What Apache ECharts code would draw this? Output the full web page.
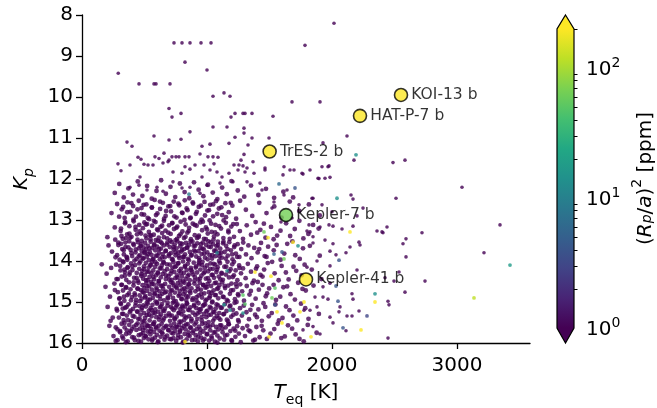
<!DOCTYPE html>
<html>
<head>
<meta charset="utf-8">
<script src="https://cdn.jsdelivr.net/npm/echarts@6/dist/echarts.min.js"></script>
<style>
  html, body { margin: 0; padding: 0; background: #fff; }
  #chart { width: 657px; height: 408px; }
</style>
</head>
<body>
<div id="chart"></div>
<script>
// --- data: [T_eq (K), Kp] for planets with (Rp/a)^2 below 1 ppm ---
const sparseField = [
  [736,8.68],[800,8.68],[864,8.68],[952,8.68],[1032,8.68],[2016,8.2],[1784,8.74],[824,9.15],[1000,9.34],[290,9.42],
  [456,9.68],[576,9.68],[592,9.68],[704,9.68],[1048,9.98],[1136,9.9],[1184,9.98],[696,10.28],[792,10.4],[720,10.49],
  [1192,10.49],[1680,10.12],[1904,10.12],[1224,10.4],[1288,10.4],[1304,10.4],[1360,10.4],[1528,10.47],
  [1048,10.73],[1160,10.73],[1296,10.76],[1296,10.88],[576,10.95],[792,11.03],[864,10.85],[1224,10.98],[1360,11.0],
  [360,11.1],[400,11.2],[696,11.05],[1176,11.13],[1496,11.0],[960,11.2],[1024,11.15],[1328,11.17],[1296,11.4],
  [448,11.47],[472,11.52],[584,11.46],[616,11.5],[656,11.37],[696,11.54],[720,11.46],[752,11.46],[776,11.46],
  [824,11.46],[856,11.46],[944,11.39],[1008,11.46],[1048,11.46],[1088,11.47],[1272,11.54],[1368,11.58],[288,11.63],
  [312,11.8],[384,11.66],[496,11.64],[528,11.66],[568,11.66],[648,11.61],[688,11.58],[728,11.83],[800,11.86],
  [824,11.7],[864,11.76],[904,11.66],[960,11.95],[976,11.66],[1024,11.78],[1056,11.63],[1080,11.83],[1120,11.95],
  [1176,11.86],[1216,11.66],[1248,11.78],[1288,11.68],[1304,11.83],[1376,11.86],[1464,11.78],[464,11.95],[456,12.15],
  [384,12.2],[520,12.27],[600,12.2],[648,12.3],[728,12.07],[800,12.22],[864,12.2],[944,12.35],[1000,12.15],
  [1104,12.1],[1208,12.07],[1320,12.07],[1424,12.1],[1608,11.9],[1664,11.78],[1760,11.86],[1824,11.78],[1888,11.98],
  [1944,11.98],[1968,11.7],[2120,10.95],[1928,11.12],[2176,11.54],[2488,11.6],[2584,11.54],[1976,11.68],[1768,11.88],
  [1896,11.99],[1984,11.96],[3040,12.2],[1848,12.47],[2152,12.39],[2168,12.49],[2512,12.47],
  [1256,11.66],[1320,11.73],[1464,11.73],[1616,11.7],[1696,11.78],[1920,11.7],[1640,12.27],[1616,12.39],[1840,12.47],
  [1440,12.27],[1536,12.56],[1520,12.71],[1736,12.63],[1920,12.63],[2000,12.8],[1976,13.12],[1816,13.12],[2248,12.71],
  [1680,12.95],[1592,13.05],[2080,13.22],[2200,12.9]
];
const sparseTail = [
  [2440,13.17],[2408,13.31],[2720,13.31],[3344,13.12],[2592,13.46],[2568,13.58],[3216,13.8],[2592,13.9],[2536,14.27],
  [2424,14.41],[2496,14.49],[2744,14.49],[2584,14.76],[2448,14.98],[2456,15.07],[2448,15.88],[2200,14.22],[2160,14.8],
  [2168,14.93],[2064,15.12],[2056,15.24],[2216,15.22],[2120,15.34],[2160,15.34],[2008,15.51],[2112,15.7],[1904,15.78],
  [1848,15.6],[1768,15.68],[1984,15.37],[1928,14.88],[1968,14.93],[1864,14.88],[1880,15.12],[1824,15.2],[1776,15.2],
  [1984,14.54],[1928,14.63],[1984,14.12],[1800,14.15],[1880,14.0],[2216,13.54],[2144,13.66],[2112,13.8],[2008,13.58],
  [1984,13.76],[2032,13.85],[1944,13.49],[1848,13.41],[1800,13.27],[1848,13.56],[2168,13.15],[2360,13.27],[2400,13.29],
  [2008,13.15],[1904,13.17],[1824,13.29],[2224,13.61]
];
const coreKp12 = [
  [262,12.34],[298,12.12],[334,12.45],[371,12.23],[408,12.38],[446,12.06],[483,12.41],[521,12.17],[558,12.48],[596,12.29],
  [633,12.03],[671,12.36],[708,12.19],[746,12.44],[783,12.11],[821,12.32],[858,12.47],[896,12.08],[933,12.26],[971,12.42],
  [1008,12.14],[1046,12.33],[1083,12.49],[1121,12.21],[1158,12.37],[1196,12.05],[1246,12.28],[1298,12.43],[1352,12.16],
  [1411,12.39],[1472,12.24],[1537,12.46],[1611,12.31],[1689,12.45]
];
const coreKp125 = [
  [236,12.83],[281,12.61],[318,12.74],[341,12.95],[364,12.57],[387,12.8],[409,12.66],[432,12.92],[454,12.53],[476,12.71],
  [497,12.87],[515,12.62],[537,12.98],[559,12.69],[581,12.51],[603,12.84],[625,12.73],[647,12.58],[669,12.9],[691,12.67],
  [712,12.79],[734,12.55],[756,12.94],[778,12.64],[800,12.82],[822,12.52],[844,12.76],[866,12.96],[888,12.6],[911,12.85],
  [934,12.68],[957,12.99],[980,12.56],[1003,12.77],[1026,12.63],[1049,12.91],[1072,12.54],[1095,12.72],[1121,12.88],
  [1147,12.59],[1174,12.81],[1203,12.65],[1233,12.97],[1265,12.53],[1311,12.75],[1362,12.9],[1418,12.58],[1476,12.83],
  [1538,12.67],[1596,12.94],[1662,12.55],[1738,12.78],[1815,12.62],[1902,12.89],
  [297,12.92],[312,13.21],[329,12.68],[346,13.05],[362,12.81],[379,13.33],[395,12.59],[411,12.99],[428,13.17],[444,12.74],
  [461,13.28],[477,12.86],[493,12.63],[510,13.11],[526,12.95],[543,13.37],[559,12.7],[575,13.02],[592,12.88],[608,13.25],
  [624,12.55],[641,13.14],[657,12.97],[673,12.78],[690,13.31],[706,12.66],[722,13.08],[739,12.91],[755,13.19],[771,12.6],
  [788,13.35],[804,12.83],[820,13.0],[837,12.72],[853,13.27],[869,12.94],[886,12.57],[902,13.12],[918,12.8],[935,13.38],
  [951,12.65],[967,13.04],[984,12.89],[1000,13.23],[1016,12.76],[1033,13.09],[1049,12.62],[1065,13.3],[1082,12.85],
  [1098,13.15],[1115,12.69],[1133,13.01],[1152,12.93],[1171,13.26],[1190,12.58],[1210,13.1]
];
const coreKp13 = [
  [203,13.42],[262,13.18],[309,13.27],[326,13.46],[344,13.08],[361,13.35],[379,13.15],[396,13.41],[413,13.03],[429,13.24],
  [444,13.48],[458,13.12],[472,13.33],[487,13.2],[499,13.06],[352,13.44],[508,13.38],[521,13.1],[535,13.29],[548,13.47],
  [561,13.14],[574,13.36],[588,13.05],[601,13.23],[614,13.43],[628,13.17],[641,13.32],[655,13.02],[668,13.26],[682,13.45],
  [696,13.13],[709,13.34],[722,13.07],[736,13.22],[749,13.49],[762,13.16],[776,13.39],[789,13.04],[803,13.28],[816,13.44],
  [829,13.11],[843,13.31],[857,13.19],[871,13.47],[886,13.09],[902,13.37],[917,13.14],[932,13.42],[946,13.06],[961,13.25],
  [976,13.46],[991,13.18],[1006,13.33],[1021,13.01],[1037,13.29],[1052,13.48],[1068,13.12],[1084,13.35],[1112,13.21],
  [1131,13.44],[1151,13.07],[1172,13.3],[1194,13.16],[1216,13.41],[1239,13.1],[1263,13.27],[1288,13.46],[1318,13.13],
  [1352,13.36],[1389,13.05],[1427,13.24],[1468,13.43],[1512,13.17],[1561,13.38],[1633,13.08],[1702,13.22],[1771,13.45],
  [1849,13.12],[1402,13.31],[1455,13.09],[1533,13.47],[1588,13.26],[1665,13.39],[1739,13.02],[1811,13.34],[1893,13.21]
];
const coreKp135 = [
  [212,13.62],[268,13.91],[240,13.77],[291,13.55],[312,13.58],[335,13.84],[348,13.66],[362,13.97],[377,13.52],[389,13.73],
  [401,13.88],[415,13.61],[428,13.79],[436,13.95],[447,13.54],[455,13.69],[463,13.86],[471,13.6],[479,13.76],[486,13.93],
  [492,13.67],[498,13.81],[322,13.71],[356,13.9],[505,13.56],[512,13.72],[519,13.89],[527,13.63],[534,13.98],[542,13.78],
  [549,13.53],[556,13.85],[563,13.68],[571,13.94],[578,13.59],[586,13.74],[593,13.87],[601,13.65],[608,13.51],[616,13.8],
  [623,13.96],[631,13.7],[639,13.57],[646,13.83],[654,13.62],[662,13.91],[671,13.75],[683,13.55],[694,13.88],[703,13.66],
  [711,13.81],[718,13.54],[726,13.97],[733,13.72],[741,13.6],[748,13.86],[756,13.69],[763,13.52],[771,13.79],[779,13.93],
  [786,13.64],[794,13.77],[801,13.58],[809,13.9],[817,13.71],[824,13.84],[832,13.56],[839,13.67],[847,13.95],[855,13.61],
  [863,13.78],[872,13.87],[884,13.53],[896,13.74],[905,13.63],[914,13.89],[922,13.57],[931,13.76],[940,13.98],[948,13.68],
  [957,13.83],[966,13.55],[975,13.72],[984,13.92],[993,13.61],[1002,13.79],[1011,13.52],[1021,13.86],[1030,13.66],
  [1040,13.94],[1049,13.59],[1058,13.75],[1068,13.88],[1077,13.64],[1087,13.53],[1096,13.81],[1106,13.7],[1118,13.92],
  [1129,13.57],[1141,13.78],[1153,13.63],[1166,13.87],[1178,13.54],[1191,13.74],[1204,13.96],[1217,13.66],[1231,13.82],
  [1245,13.59],[1259,13.9],[1274,13.71],[1290,13.55],[1312,13.84],[1331,13.62],[1356,13.93],[1378,13.68],[1405,13.79],
  [1432,13.56],[1461,13.88],[1489,13.65],[1534,13.74],[1589,13.97],[1642,13.58],[1706,13.86],[1768,13.69],
  [1418,13.71],[1476,13.9],[1557,13.61],[1618,13.82],[1683,13.52],[1742,13.95],[1823,13.63],[1902,13.87]
];
const coreKp14 = [
  [158,14.08],[197,14.31],[233,14.17],[276,14.44],[305,14.12],[318,14.38],[331,14.03],[343,14.27],[354,14.46],[366,14.15],
  [379,14.33],[392,14.06],[404,14.22],[417,14.41],[425,14.1],[438,14.29],[446,14.48],[458,14.19],[467,14.01],[474,14.36],
  [482,14.24],[489,14.43],[496,14.13],[340,14.21],[503,14.34],[510,14.05],[518,14.26],[525,14.47],[533,14.16],[540,14.39],
  [548,14.09],[555,14.3],[562,14.02],[570,14.23],[577,14.45],[585,14.14],[592,14.35],[600,14.07],[607,14.28],[615,14.49],
  [622,14.18],[630,14.4],[638,14.11],[645,14.32],[653,14.04],[661,14.25],[670,14.44],[681,14.2],[692,14.37],[702,14.09],
  [709,14.31],[717,14.46],[724,14.16],[732,14.03],[739,14.27],[747,14.42],[754,14.12],[762,14.35],[770,14.06],[777,14.24],
  [785,14.48],[792,14.19],[800,14.38],[808,14.01],[815,14.29],[823,14.14],[830,14.44],[838,14.22],[846,14.07],[854,14.33],
  [862,14.47],[871,14.17],[882,14.26],[894,14.04],[903,14.39],[912,14.13],[920,14.28],[929,14.45],[938,14.08],[947,14.21],
  [955,14.36],[964,14.02],[973,14.3],[982,14.17],[991,14.43],[1000,14.11],[1009,14.25],[1019,14.49],[1028,14.06],
  [1037,14.34],[1047,14.19],[1056,14.41],[1066,14.09],[1075,14.27],[1085,14.15],[1094,14.38],[1104,14.05],[1116,14.29],
  [1127,14.46],[1139,14.14],[1151,14.33],[1164,14.02],[1176,14.4],[1189,14.2],[1202,14.08],[1215,14.35],[1229,14.23],
  [1243,14.47],[1257,14.11],[1272,14.3],[1288,14.18],[1309,14.42],[1327,14.07],[1352,14.26],[1375,14.48],[1401,14.13],
  [1428,14.34],[1457,14.21],[1486,14.05],[1541,14.3],[1597,14.12],[1653,14.45],[1714,14.24],[1781,14.09],
  [1392,14.19],[1444,14.38],[1521,14.02],[1573,14.47],[1631,14.28],[1692,14.14],[1757,14.35],[1838,14.21],[1915,14.44]
];
const coreKp145 = [
  [188,14.63],[224,14.87],[259,14.55],[287,14.76],[302,14.91],[315,14.58],[328,14.72],[339,14.97],[351,14.64],[363,14.83],
  [376,14.52],[388,14.69],[399,14.88],[412,14.6],[421,14.79],[433,14.95],[443,14.67],[452,14.53],[461,14.84],[470,14.71],
  [477,14.92],[485,14.59],[493,14.77],[499,14.66],[507,14.86],[514,14.54],[522,14.73],[529,14.94],[537,14.62],[544,14.81],
  [552,14.51],[559,14.7],[566,14.9],[574,14.57],[581,14.78],[589,14.99],[596,14.65],[604,14.85],[611,14.55],[619,14.74],
  [626,14.93],[634,14.61],[642,14.8],[649,14.68],[657,14.96],[665,14.56],[674,14.75],[686,14.89],[697,14.63],[705,14.82],
  [713,14.52],[720,14.71],[728,14.9],[735,14.6],[743,14.77],[750,14.98],[758,14.66],[766,14.54],[773,14.85],[781,14.73],
  [788,14.59],[796,14.92],[804,14.69],[811,14.81],[819,14.53],[826,14.75],[834,14.95],[842,14.64],[850,14.87],[858,14.57],
  [867,14.78],[876,14.67],[888,14.91],[899,14.55],[907,14.74],[916,14.97],[925,14.62],[933,14.84],[942,14.53],[951,14.7],
  [960,14.89],[969,14.58],[978,14.79],[987,14.65],[996,14.94],[1005,14.56],[1015,14.76],[1024,14.86],[1033,14.61],
  [1043,14.99],[1052,14.72],[1062,14.54],[1071,14.83],[1081,14.68],[1090,14.91],[1099,14.59],[1109,14.77],[1121,14.52],
  [1133,14.88],[1145,14.66],[1158,14.95],[1170,14.6],[1183,14.8],[1196,14.55],[1209,14.71],[1223,14.93],[1237,14.63],
  [1251,14.84],[1266,14.57],[1281,14.74],[1296,14.97],[1318,14.61],[1340,14.82],[1364,14.54],[1389,14.92],[1415,14.7],
  [1444,14.58],[1470,14.86],[1497,14.67],[1552,14.95],[1611,14.64],[1668,14.81],[1729,14.53],[1790,14.72],
  [1351,14.73],[1406,14.51],[1481,14.79],[1533,14.58],[1586,14.87],[1641,14.62],[1703,14.94],[1764,14.68],[1852,14.6]
];
const coreKp15 = [
  [205,15.12],[246,15.38],[281,15.21],[229,15.46],[308,15.03],[321,15.29],[333,15.44],[346,15.14],[358,15.33],[371,15.06],
  [383,15.25],[395,15.47],[408,15.17],[419,15.36],[430,15.02],[441,15.23],[450,15.41],[459,15.1],[468,15.31],[476,15.19],
  [484,15.48],[491,15.08],[497,15.27],[326,15.16],[504,15.39],[511,15.11],[519,15.32],[526,15.04],[534,15.22],[541,15.45],
  [549,15.15],[556,15.35],[564,15.07],[571,15.26],[579,15.49],[586,15.18],[594,15.37],[601,15.01],[609,15.24],[617,15.43],
  [624,15.13],[632,15.3],[640,15.05],[647,15.21],[655,15.4],[663,15.16],[672,15.34],[684,15.09],[695,15.28],[704,15.46],
  [711,15.12],[719,15.33],[726,15.02],[734,15.2],[742,15.42],[749,15.14],[757,15.36],[764,15.06],[772,15.27],[780,15.48],
  [787,15.17],[795,15.3],[803,15.09],[810,15.23],[818,15.44],[825,15.11],[833,15.38],[841,15.04],[849,15.19],[857,15.35],
  [866,15.13],[875,15.47],[886,15.26],[897,15.07],[906,15.32],[915,15.15],[923,15.41],[932,15.03],[941,15.25],[950,15.18],
  [958,15.45],[967,15.1],[976,15.29],[985,15.06],[994,15.37],[1003,15.21],[1013,15.49],[1022,15.12],[1031,15.31],
  [1041,15.01],[1050,15.24],[1060,15.4],[1069,15.16],[1079,15.34],[1088,15.08],[1098,15.27],[1107,15.43],[1119,15.14],
  [1131,15.3],[1143,15.05],[1156,15.22],[1168,15.47],[1181,15.11],[1194,15.36],[1207,15.19],[1221,15.02],[1235,15.28],
  [1249,15.44],[1264,15.15],[1279,15.33],[1294,15.09],[1315,15.25],[1336,15.42],[1361,15.07],[1385,15.31],[1411,15.18],
  [1439,15.46],[1466,15.12],[1494,15.35],[1547,15.06],[1604,15.39],[1660,15.2],[1722,15.45],[1786,15.15],
  [1347,15.19],[1399,15.37],[1452,15.03],[1518,15.27],[1575,15.45],[1632,15.11],[1691,15.33],[1752,15.04],[1812,15.41],[1895,15.29]
];
const coreKp155 = [
  [219,15.58],[252,15.83],[284,15.67],[270,15.95],[304,15.74],[317,15.53],[329,15.89],[341,15.62],[353,15.78],[365,15.96],
  [378,15.56],[390,15.71],[402,15.86],[414,15.6],[423,15.93],[435,15.68],[445,15.52],[454,15.81],[463,15.65],[472,15.97],
  [480,15.57],[488,15.76],[495,15.88],[359,15.69],[502,15.63],[509,15.84],[517,15.55],[524,15.72],[532,15.91],[539,15.59],
  [547,15.79],[554,15.66],[561,15.94],[569,15.54],[576,15.73],[584,15.87],[591,15.61],[599,15.8],[606,15.98],[614,15.58],
  [621,15.7],[629,15.85],[637,15.53],[644,15.77],[652,15.64],[660,15.92],[669,15.6],[680,15.82],[691,15.68],[701,15.9],
  [708,15.57],[716,15.75],[723,15.63],[731,15.88],[738,15.52],[746,15.71],[753,15.95],[761,15.61],[768,15.8],[776,15.56],
  [783,15.73],[791,15.86],[799,15.64],[806,15.99],[814,15.59],[821,15.78],[829,15.67],[837,15.91],[845,15.54],[853,15.74],
  [861,15.83],[870,15.62],[880,15.93],[892,15.7],[901,15.55],[910,15.81],[918,15.66],[927,15.96],[936,15.6],[945,15.76],
  [953,15.87],[962,15.53],[971,15.72],[980,15.9],[989,15.63],[998,15.79],[1007,15.58],[1017,15.94],[1026,15.69],
  [1035,15.84],[1045,15.56],[1054,15.75],[1064,15.97],[1073,15.61],[1083,15.82],[1092,15.67],[1102,15.89],[1114,15.57],
  [1125,15.74],[1137,15.92],[1149,15.62],[1162,15.8],[1174,15.54],[1187,15.71],[1200,15.95],[1213,15.65],[1227,15.85],
  [1241,15.59],[1255,15.77],[1270,15.98],[1285,15.64],[1304,15.83],[1322,15.58],[1346,15.72],[1370,15.94],[1395,15.61],
  [1421,15.86],[1450,15.69],[1479,15.9],[1538,15.66],[1594,15.88],[1648,15.57],[1709,15.79],[1774,15.96],
  [1333,15.69],[1384,15.92],[1437,15.58],[1508,15.77],[1566,15.53],[1622,15.84],[1681,15.65],[1740,15.9],[1806,15.56],[1877,15.75]
];
const coreFill = [
  [263,14.71],[266,13.48],[270,15.62],[273,14.09],[277,15.17],[281,13.86],[284,15.93],[287,14.44],[291,13.61],[295,15.38],
  [298,14.92],[301,13.97],[305,15.71],[308,14.23],[312,15.05],[316,13.39],[319,14.58],[322,15.84],[326,14.01],[330,15.29],
  [333,13.74],[336,14.87],[340,15.51],[343,14.36],[347,13.55],[351,15.98],[354,14.65],[357,15.12],[361,13.92],[364,14.17],
  [368,15.44],[371,13.67],[375,14.79],[378,15.76],[382,14.28],[385,13.43],[389,15.21],[392,14.96],[396,13.81],[399,15.66],
  [403,14.13],[406,15.34],[409,13.58],[413,14.52],[416,15.87],[420,13.99],[423,14.84],[427,15.09],[430,13.72],[434,15.56],
  [437,14.41],[440,13.35],[444,15.24],[447,14.68],[451,15.95],[454,13.89],[458,14.06],[461,15.41],[464,14.98],[468,13.64],
  [471,15.79],[475,14.32],[478,13.51],[481,15.14],[485,14.75],[488,15.68],[492,13.94],[495,14.2],[498,15.47],[502,13.78],
  [505,14.89],[509,15.83],[512,14.47],[515,13.45],[519,15.01],[522,14.62],[526,15.59],[529,13.83],[532,14.26],[536,15.31],
  [539,13.69],[543,14.94],[546,15.72],[549,14.11],[553,13.38],[556,15.19],[560,14.56],[563,15.9],[566,13.96],[570,14.39],
  [573,15.53],[577,13.62],[580,14.81],[583,15.27],[587,14.03],[590,13.49],[594,15.64],[597,14.7],[600,15.04],[604,13.87],
  [607,14.3],[611,15.96],[614,14.49],[617,13.71],[621,15.36],[624,14.85],[628,13.53],[631,15.11],[634,14.18],[638,15.74],
  [641,13.91],[645,14.6],[648,15.45],[651,14.02],[655,13.42],[658,15.22],[662,14.77],[665,15.86],[668,13.76],[672,14.35],
  [675,15.58],[679,14.08],[682,13.6],[685,15.02],[689,14.91],[692,15.69],[696,13.84],[699,14.46],[702,15.33],[706,13.5],
  [709,14.73],[713,15.91],[716,14.24],[719,13.95],[723,15.16],[726,14.54],[730,15.77],[733,13.66],[736,14.99],[740,15.4],
  [743,14.15],[747,13.79],[750,15.61],[753,14.63],[757,15.08],[760,13.46],[764,14.4],[767,15.88],[770,14.05],[774,13.88],
  [777,15.26],[781,14.82],[784,15.7],[787,13.57],[791,14.29],[794,15.48],[798,14.93],[801,13.73],[804,15.13],[808,14.5],
  [811,15.97],[815,13.9],[818,14.67],[821,15.35],[825,14.12],[828,13.41],[832,15.55],[835,14.86],[838,15.03],[842,13.68],
  [845,14.37],[849,15.81],[852,14.57],[855,13.98],[859,15.2],[862,14.74],[866,15.63],[869,13.52],[872,14.22],[876,15.42],
  [879,13.85],[883,14.95],[886,15.75],[889,14.33],[893,13.63],[896,15.1],[900,14.48],[903,15.92],[906,13.77],[910,14.16],
  [913,15.5],[917,14.88],[920,13.44],[923,15.28],[927,14.69],[930,15.85],[934,14.04],[937,13.93],[940,15.18],[944,14.43],
  [947,15.67],[951,13.59],[954,14.8],[957,15.37],[961,14.1],[964,13.7],[968,15.94],[971,14.59],[974,15.07],[978,13.82],
  [981,14.27],[985,15.52],[988,14.97],[991,13.47],[995,15.23],[998,14.64],[1002,15.78],[1005,13.96],[1008,14.42],[1012,15.32],
  [1015,13.65],[1019,14.9],[1022,15.6],[1025,14.19],[1029,13.54],[1032,15.15],[1036,14.78],[1039,15.89],[1042,13.86],[1046,14.34],
  [1049,15.46],[1053,14.07],[1056,13.4],[1059,15.25],[1063,14.83],[1066,15.73],[1070,13.75],[1073,14.53],[1076,15.06],[1080,14.21],
  [1083,15.99],[1087,13.61],[1090,14.66],[1093,15.39],[1097,14.0],[1100,13.89],[1104,15.57],[1107,14.45],[1110,15.14],[1114,13.8],
  [1118,14.31],[1123,15.65],[1127,14.87],[1132,13.53],[1136,15.29],[1141,14.61],[1145,15.82],[1150,13.94],[1154,14.14],[1159,15.43],
  [1164,13.71],[1168,14.98],[1173,15.54],[1178,14.25],[1182,13.46],[1187,15.09],[1192,14.72],[1196,15.93],[1201,13.84],[1206,14.39],
  [1211,15.31],[1216,14.02],[1221,13.62],[1226,15.7],[1231,14.56],[1236,15.0],[1242,13.9],[1248,14.81],[1254,15.48],[1260,14.17]
];
// --- data: [T_eq (K), Kp, (Rp/a)^2 in ppm] for planets at or above 1 ppm ---
const brightPlanets = [
  [2192,11.41,14],[2040,12.47,14],[1576,12.12,6],[1704,12.22,4],[856,12.37,9],[1456,13.29,60],[2144,13.29,300],
  [1488,13.43,300],[1688,13.54,300],[1728,13.63,14],[1600,13.78,4],[1616,13.95,60],[1536,13.83,5],[1384,14.27,300],
  [1512,14.37,300],[1544,14.66,50],[1520,14.9,60],[1304,15.05,50],[1288,15.27,14],[1560,15.24,300],[1544,15.07,4],
  [1600,15.51,300],[1776,15.0,300],[1744,15.24,300],[1832,15.85,300],[1496,15.85,300],[2056,13.98,4],[2048,14.98,4],
  [2344,14.8,14],[2344,15.0,300],[2232,15.68,300],[2088,15.63,4],[2280,15.34,3],[2032,14.61,4],[3424,14.1,18],
  [3136,14.9,120],[1160,14.24,12],[1080,13.8,10],[1288,14.83,50],[1184,15.2,12],[1136,15.07,14],[824,15.97,300]
];
const namedPlanets = ['KOI-13 b', 'HAT-P-7 b', 'TrES-2 b', 'Kepler-7 b', 'Kepler-41 b'];
const namedTeq = [2552, 2224, 1501, 1632, 1792];
const namedKp = [9.95, 10.46, 11.33, 12.88, 14.45];
const namedDepth = [1000, 500, 300, 65, 300];

const xTicks = [0, 1000, 2000, 3000];
const cbMajor = [1, 10, 100];
const cbMinor = [2, 3, 4, 5, 6, 7, 8, 9, 20, 30, 40, 50, 60, 70, 80, 90, 200];
const cbMin = 1, cbMax = 200;

const outerPlanets = [].concat(sparseField, sparseTail);
const corePlanets = [].concat(coreKp12, coreKp125, coreKp13, coreKp135, coreKp14,
  coreKp145, coreKp15, coreKp155, coreFill);

// viridis colormap
const viridisStops = ['#440154','#482475','#414487','#355f8d','#2a788e','#21918c',
  '#22a884','#44bf70','#7ad151','#bddf26','#fde725'];
function hexRgb(h) { return [1, 3, 5].map(i => parseInt(h.substr(i, 2), 16)); }
function viridis(t) {
  t = Math.min(1, Math.max(0, t));
  const p = t * 10, i = Math.min(9, Math.floor(p)), f = p - i;
  const a = hexRgb(viridisStops[i]), b = hexRgb(viridisStops[i + 1]);
  return 'rgb(' + a.map((v, k) => Math.round(v + (b[k] - v) * f)).join(',') + ')';
}
function depthColor(d) { return viridis(Math.log10(d) / Math.log10(cbMax)); }

const FONT = 'DejaVu Sans';
const chart = echarts.init(document.getElementById('chart'));

const supRich = {
  b: { fontSize: 20, fontFamily: FONT, color: '#000', verticalAlign: 'bottom', lineHeight: 24 },
  s: { fontSize: 14, fontFamily: FONT, color: '#000', verticalAlign: 'top', lineHeight: 14 }
};

chart.setOption({
  animation: false,
  textStyle: { fontFamily: FONT },
  grid: [
    { left: 82, top: 15, width: 448, height: 328, outerBoundsMode: 'none' },
    { left: 557, top: 29, width: 17, height: 299, outerBoundsMode: 'none' }
  ],
  xAxis: [{
    gridIndex: 0, type: 'value', min: 0, max: 3584,
    axisLine: { show: true, lineStyle: { color: '#000', width: 1.3 } },
    axisTick: { show: true, customValues: xTicks, length: 6, lineStyle: { color: '#000', width: 1.3 } },
    axisLabel: { customValues: xTicks, formatter: v => String(v), fontSize: 20, color: '#000', fontFamily: FONT, margin: 13 },
    splitLine: { show: false },
    name: '{i|T}{s|eq}{n| [K]}', nameLocation: 'middle', nameGap: 39,
    nameTextStyle: { rich: {
      i: { fontSize: 20, fontStyle: 'italic', fontFamily: FONT, color: '#000', verticalAlign: 'top', lineHeight: 24 },
      s: { fontSize: 14, fontFamily: FONT, color: '#000', verticalAlign: 'bottom', lineHeight: 14, padding: [12, 0, 0, 0] },
      n: { fontSize: 20, fontFamily: FONT, color: '#000', verticalAlign: 'top', lineHeight: 24 }
    } }
  }, {
    gridIndex: 1, type: 'value', min: 0, max: 1, show: false
  }],
  yAxis: [{
    gridIndex: 0, type: 'value', min: 8, max: 16, interval: 1, inverse: true,
    axisLine: { show: true, lineStyle: { color: '#000', width: 1.3 } },
    axisTick: { show: true, length: 6, lineStyle: { color: '#000', width: 1.3 } },
    axisLabel: { fontSize: 20, color: '#000', fontFamily: FONT, margin: 9 },
    splitLine: { show: false },
    name: '{i|K}{s|p}', nameLocation: 'middle', nameGap: 46, nameRotate: 90,
    nameTextStyle: { rich: {
      i: { fontSize: 20, fontStyle: 'italic', fontFamily: FONT, color: '#000', verticalAlign: 'top', lineHeight: 24 },
      s: { fontSize: 14, fontStyle: 'italic', fontFamily: FONT, color: '#000', verticalAlign: 'bottom', lineHeight: 14, padding: [12, 0, 0, 0] }
    } }
  }, {
    gridIndex: 1, type: 'log', min: cbMin, max: cbMax, position: 'right',
    axisLine: { show: false },
    axisTick: { show: true, customValues: cbMajor, length: 6, lineStyle: { color: '#000', width: 1.3 } },
    axisLabel: { customValues: cbMajor, margin: 12, formatter: v => '{b|10}{s|' + Math.round(Math.log10(v)) + '}', rich: supRich },
    splitLine: { show: false },
    name: '{n|(}{i|R}{u|p}{n|/}{i|a}{n|)}{t|2}{n| [ppm]}', nameLocation: 'middle', nameGap: 56, nameRotate: 90,
    nameTextStyle: { rich: {
      i: { fontSize: 20, fontStyle: 'italic', fontFamily: FONT, color: '#000', verticalAlign: 'top', lineHeight: 24, padding: [6, 0, 0, 0] },
      n: { fontSize: 20, fontFamily: FONT, color: '#000', verticalAlign: 'top', lineHeight: 24, padding: [6, 0, 0, 0] },
      u: { fontSize: 14, fontStyle: 'italic', fontFamily: FONT, color: '#000', verticalAlign: 'bottom', lineHeight: 14 },
      t: { fontSize: 14, fontFamily: FONT, color: '#000', verticalAlign: 'top', lineHeight: 14 }
    } }
  }, {
    gridIndex: 1, type: 'log', min: cbMin, max: cbMax, position: 'right',
    axisLine: { show: false },
    axisTick: { show: true, customValues: cbMinor, length: 3.5, lineStyle: { color: '#000', width: 1 } },
    axisLabel: { show: false },
    splitLine: { show: false }
  }],
  series: [{
    type: 'scatter', xAxisIndex: 0, yAxisIndex: 0,
    data: outerPlanets, symbolSize: 3.6,
    itemStyle: { color: viridisStops[0] }, silent: true
  }, {
    type: 'scatter', xAxisIndex: 0, yAxisIndex: 0,
    data: corePlanets, symbolSize: 4.8,
    itemStyle: { color: viridisStops[0] }, silent: true
  }, {
    type: 'scatter', xAxisIndex: 0, yAxisIndex: 0,
    data: brightPlanets, symbolSize: 3.8,
    itemStyle: { color: p => depthColor(p.value[2]) }, silent: true
  }, {
    type: 'scatter', xAxisIndex: 0, yAxisIndex: 0,
    data: namedPlanets.map((n, i) => ({ name: n, value: [namedTeq[i], namedKp[i], namedDepth[i]] })),
    symbolSize: 13,
    itemStyle: { color: p => depthColor(p.value[2]), borderColor: '#000', borderWidth: 1.6 },
    label: { show: true, position: 'right', distance: 3, formatter: '{b}', fontSize: 15.5, color: '#000', fontFamily: FONT },
    z: 5
  }, {
    // colorbar
    type: 'custom', xAxisIndex: 1, yAxisIndex: 1, clip: false, silent: true,
    data: [[0, cbMin]],
    renderItem: (params, api) => {
      const tl = api.coord([0, cbMax]), br = api.coord([1, cbMin]);
      const x0 = tl[0], x1 = br[0], yT = tl[1], yB = br[1], cx = (x0 + x1) / 2;
      const grad = new echarts.graphic.LinearGradient(0, 1, 0, 0,
        viridisStops.map((c, i) => ({ offset: i / 10, color: c })));
      return { type: 'group', children: [
        { type: 'rect', shape: { x: x0, y: yT, width: x1 - x0, height: yB - yT }, style: { fill: grad } },
        { type: 'polygon', shape: { points: [[x0, yT], [x1, yT], [cx, yT - 14]] }, style: { fill: viridisStops[10] } },
        { type: 'polygon', shape: { points: [[x0, yB], [x1, yB], [cx, yB + 15]] }, style: { fill: viridisStops[0] } },
        { type: 'polygon', shape: { points: [[cx, yT - 14], [x1, yT], [x1, yB], [cx, yB + 15], [x0, yB], [x0, yT]] },
          style: { fill: null, stroke: '#000', lineWidth: 1.2 } }
      ] };
    }
  }]
});
</script>
</body>
</html>
